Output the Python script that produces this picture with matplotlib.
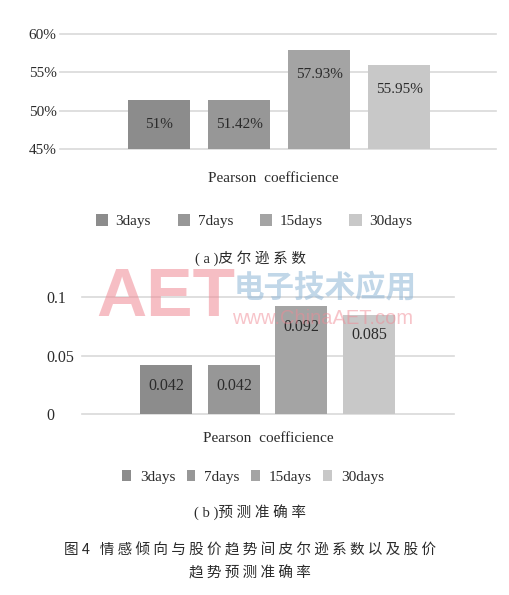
import matplotlib
matplotlib.use("Agg")
import matplotlib.pyplot as plt
from matplotlib.patches import Patch

# ---------------- data ----------------
series = ["3days", "7days", "15days", "30days"]
pearson_vals = [51.42, 51.42, 57.93, 55.95]
pearson_labels = ["51%", "51.42%", "57.93%", "55.95%"]
pearson_ticks = [45, 50, 55, 60]
pearson_ticklabels = ["45%", "50%", "55%", "60%"]

acc_vals = [0.042, 0.042, 0.092, 0.085]
acc_labels = ["0.042", "0.042", "0.092", "0.085"]
acc_ticks = [0, 0.05, 0.1]
acc_ticklabels = ["0", "0.05", "0.1"]

category = "Pearson  coefficience"
caption_a = "( a )皮 尔 逊 系 数"
caption_b = "( b )预 测 准 确 率"
fig_caption1 = "图 4   情 感 倾 向 与 股 价 趋 势 间 皮 尔 逊 系 数 以 及 股 价"
fig_caption2 = "趋 势 预 测 准 确 率"

colors = ["#8c8c8c", "#979797", "#a4a4a4", "#c8c8c8"]
grid_c = "#d9d9d9"
txt_c = "#2b2b2b"

SERIF = ["Liberation Serif", "Noto Sans CJK SC", "DejaVu Sans"]
CJK = ["Noto Sans CJK SC", "DejaVu Sans"]
plt.rcParams["font.family"] = SERIF

W, H = 510, 595
fig = plt.figure(figsize=(W / 100, H / 100), dpi=100)
fig.patch.set_facecolor("white")


def fx(px):
    return px / W


def fy(py):
    return 1 - py / H


def make_axes(left, right, top, bottom):
    return fig.add_axes([fx(left), fy(bottom), (right - left) / W, (bottom - top) / H])


def style(ax):
    for s in ax.spines.values():
        s.set_visible(False)
    ax.set_xticks([])
    ax.tick_params(axis="y", length=0, colors=txt_c)
    ax.yaxis.grid(True, color=grid_c, lw=1.2)
    ax.set_axisbelow(True)


def unclip_grid(ax):
    for gl in ax.get_ygridlines():
        gl.set_clip_on(False)


# ---------------- top chart ----------------
ax1 = make_axes(60, 496, 34, 149)
style(ax1)
x = list(range(len(series)))
bars1 = ax1.bar(x, [v - 45 for v in pearson_vals], bottom=45, width=0.78, color=colors)
ax1.set_xlim(-1.24, 4.21)
ax1.set_ylim(45, 60)
ax1.set_yticks(pearson_ticks)
ax1.set_yticklabels(pearson_ticklabels, fontsize=11)
ax1.tick_params(axis="y", pad=2.5)
unclip_grid(ax1)
for b, lab in zip(bars1, pearson_labels):
    ax1.annotate(lab, (b.get_x() + b.get_width() / 2, b.get_y() + b.get_height()),
                 xytext=(0, -17.5), textcoords="offset points", ha="center", va="center",
                 fontsize=11, color=txt_c)

fig.text(fx(273), fy(179), category, ha="center", va="center", fontsize=11, color=txt_c)
handles = [Patch(facecolor=c, edgecolor="none") for c in colors]
fig.legend(handles, series, loc="center", bbox_to_anchor=(fx(254), fy(221)), ncol=4,
           frameon=False, fontsize=11, handlelength=0.8, handleheight=0.8,
           handletextpad=0.5, columnspacing=1.75, labelcolor=txt_c)
fig.text(fx(251), fy(258), caption_a, ha="center", va="center", fontsize=10.5, color=txt_c,
         family=SERIF)

# ---------------- bottom chart ----------------
ax2 = make_axes(82, 454, 297, 414)
style(ax2)
bars2 = ax2.bar(x, acc_vals, width=0.77, color=colors)
ax2.set_xlim(-1.25, 4.26)
ax2.set_ylim(0, 0.1)
ax2.set_yticks(acc_ticks)
ax2.set_yticklabels(acc_ticklabels, fontsize=11.5)
for t in ax2.get_yticklabels():
    t.set_horizontalalignment("left")
ax2.tick_params(axis="y", pad=25.5)
unclip_grid(ax2)
for b, lab in zip(bars2, acc_labels):
    ax2.annotate(lab, (b.get_x() + b.get_width() / 2, b.get_height()),
                 xytext=(0, -15), textcoords="offset points", ha="center", va="center",
                 fontsize=11.5, color=txt_c)

fig.text(fx(268), fy(439), category, ha="center", va="center", fontsize=11, color=txt_c)
fig.legend(handles, series, loc="center", bbox_to_anchor=(fx(253), fy(477)), ncol=4,
           frameon=False, fontsize=11, handlelength=0.55, handleheight=0.75,
           handletextpad=0.6, columnspacing=0.75, labelcolor=txt_c)
fig.text(fx(250), fy(513), caption_b, ha="center", va="center", fontsize=10.5, color=txt_c,
         family=SERIF)

fig.text(fx(250), fy(550), fig_caption1, ha="center", va="center", fontsize=10.5,
         color=txt_c, family=CJK)
fig.text(fx(250), fy(573), fig_caption2, ha="center", va="center", fontsize=10.5,
         color=txt_c, family=CJK)

# ---------------- watermark ----------------
fig.text(fx(96), fy(298), "AET", ha="left", va="center", fontsize=50, fontweight="bold",
         family=["Liberation Sans"], color="#f08a95", alpha=0.55, zorder=10)
fig.text(fx(325), fy(287), "电子技术应用", ha="center", va="center", fontsize=22,
         fontweight="bold", family=CJK, color="#8fb6d6", alpha=0.55, zorder=10)
fig.text(fx(323), fy(318), "www.ChinaAET.com", ha="center", va="center", fontsize=14.5,
         family=["Liberation Sans"], color="#f08a95", alpha=0.5, zorder=10)

fig.savefig("out.png", dpi=100, facecolor="white")
